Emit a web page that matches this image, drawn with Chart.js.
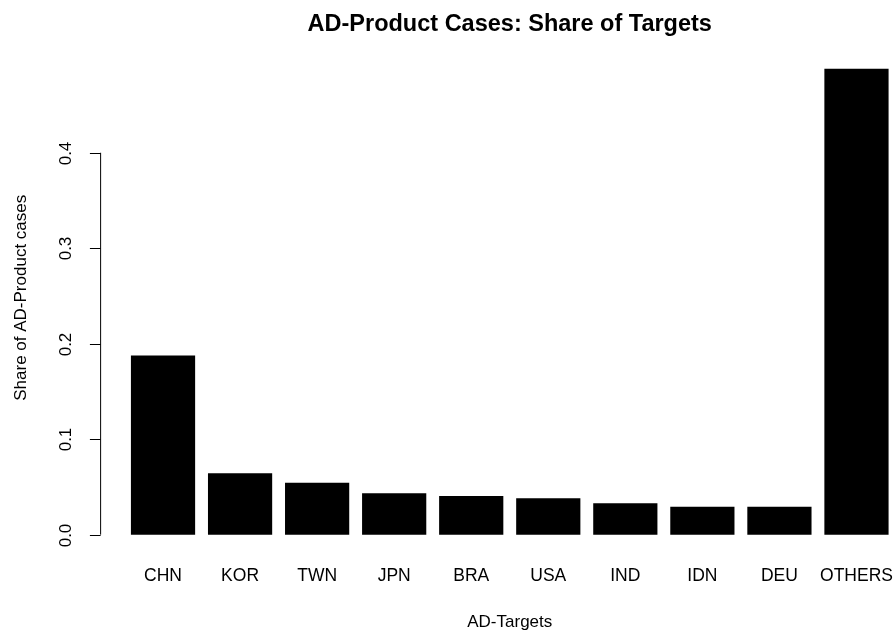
<!DOCTYPE html>
<html>
<head>
<meta charset="utf-8">
<script src="https://cdn.jsdelivr.net/npm/chart.js"></script>
<style>
  html, body { margin: 0; padding: 0; background: #fff; }
  #wrap { width: 895px; height: 633px; }
</style>
</head>
<body>
<div id="wrap"><canvas id="chart" width="895" height="633"></canvas></div>
<script>
const categories = ['CHN','KOR','TWN','JPN','BRA','USA','IND','IDN','DEU','OTHERS'];
const shares = [0.1877, 0.0642, 0.0544, 0.0433, 0.0405, 0.0381, 0.0328, 0.0293, 0.0293, 0.4879];
const yTicks = [0, 0.1, 0.2, 0.3, 0.4];
const yTickLabels = ['0.0', '0.1', '0.2', '0.3', '0.4'];

const FONT = '"Liberation Sans", Arial, Helvetica, sans-serif';
const maxShare = Math.max.apply(null, shares);

// R-style axes: left axis spans only the tick range, rotated tick labels
const rAxes = {
    id: 'rAxes',
    afterDraw(chart){
        const ctx = chart.ctx;
        const xs = chart.scales.x, ys = chart.scales.y;
        const area = chart.chartArea;
        const pitch = xs.getPixelForValue(1) - xs.getPixelForValue(0);
        // plot region edges as R would have them (4% beyond the outer bars)
        const plotLeft = xs.getPixelForValue(0) - 0.81 * pitch;
        const plotRight = xs.getPixelForValue(categories.length - 1) + 0.81 * pitch;
        ctx.save();
        ctx.strokeStyle = '#000';
        ctx.lineWidth = 1;
        ctx.fillStyle = '#000';
        // axis line
        ctx.beginPath();
        ctx.moveTo(plotLeft, ys.getPixelForValue(yTicks[0]));
        ctx.lineTo(plotLeft, ys.getPixelForValue(yTicks[yTicks.length-1]));
        ctx.stroke();
        ctx.font = '17px ' + FONT;
        ctx.textAlign = 'center';
        ctx.textBaseline = 'middle';
        yTicks.forEach((v, i) => {
            const py = Math.round(ys.getPixelForValue(v)) + 0.5;
            ctx.beginPath();
            ctx.moveTo(plotLeft, py);
            ctx.lineTo(plotLeft - 10.7, py);
            ctx.stroke();
            ctx.save();
            ctx.translate(plotLeft - 34.5, py);
            ctx.rotate(-Math.PI/2);
            ctx.fillText(yTickLabels[i], 0, 0);
            ctx.restore();
        });
        // category labels
        ctx.font = '17.5px ' + FONT;
        categories.forEach((c, i) => {
            ctx.fillText(c, xs.getPixelForValue(i), area.bottom + 23);
        });
        // axis titles
        ctx.font = '17px ' + FONT;
        ctx.fillText('AD-Targets', (plotLeft + plotRight) / 2, area.bottom + 69);
        ctx.save();
        ctx.translate(21, (area.top + area.bottom) / 2 - 4);
        ctx.rotate(-Math.PI/2);
        ctx.fillText('Share of AD-Product cases', 0, 0);
        ctx.restore();
        ctx.restore();
    }
};

new Chart(document.getElementById('chart').getContext('2d'), {
    type: 'bar',
    data: {
        labels: categories,
        datasets: [{
            data: shares,
            backgroundColor: '#000',
            borderWidth: 0,
            barPercentage: 1,
            categoryPercentage: 1/1.2
        }]
    },
    options: {
        responsive: false,
        animation: false,
        devicePixelRatio: 1,
        layout: { padding: { left: 124.5, right: 0, top: 0, bottom: 79.7 } },
        plugins: {
            legend: { display: false },
            tooltip: { enabled: false },
            title: {
                display: true,
                text: 'AD-Product Cases: Share of Targets',
                color: '#000',
                fullSize: false,
                font: { family: FONT, size: 23.5, weight: 'bold' },
                padding: { top: 10, bottom: 12 }
            }
        },
        scales: {
            x: { display: false, offset: true },
            y: { display: false, min: -0.04 * maxShare, max: 1.04 * maxShare }
        }
    },
    plugins: [rAxes]
});
</script>
</body>
</html>
